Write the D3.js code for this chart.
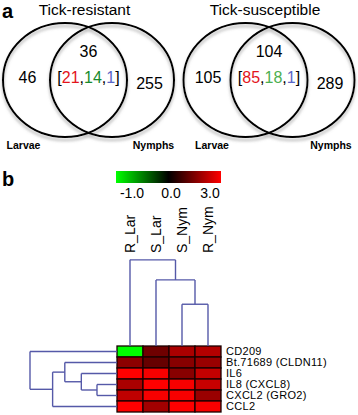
<!DOCTYPE html>
<html lang="en">
    <head>
        <meta charset="utf-8">
        <title>Venn + heatmap</title>
        <script type="text/javascript" src="https://cdn.jsdelivr.net/npm/d3@7"></script>
        <style>
            body { margin: 0; background: #fff; }
            svg { display: block; font-family: "Liberation Sans", Arial, sans-serif; }
        </style>
    </head>
    <body>
        <script type="text/javascript">
            // ---- data: panel a (venn counts) ----
            var vennTitles = ["Tick-resistant", "Tick-susceptible"];
            var setNames = ["Larvae", "Nymphs"];
            var larvaeOnly = [46, 105];
            var sharedCount = [36, 104];
            var nymphsOnly = [255, 289];
            var sharedSplit = [[21, 14, 1], [85, 18, 1]];
            var splitColors = [["#e3141c", "#178a2c", "#5a66c8"], ["#e3141c", "#4caf50", "#5a66c8"]];

            // ---- data: panel b (heatmap) ----
            var samples = ["R_Lar", "S_Lar", "S_Nym", "R_Nym"];
            var genes = ["CD209", "Bt.71689 (CLDN11)", "IL6", "IL8 (CXCL8)", "CXCL2 (GRO2)", "CCL2"];
            var values = [
                [-1.0, 1.3, 2.0, 2.1],
                [1.65, 1.2, 1.6, 1.8],
                [3.0, 2.9, 1.6, 2.3],
                [2.0, 3.0, 2.9, 2.35],
                [2.25, 2.9, 2.9, 1.8],
                [3.0, 1.9, 3.0, 2.9]
            ];
            var legendTicks = [-1.0, 0.0, 3.0];
            // dendrograms (merge heights in distance units)
            var colTree = { h: 0.99, children: [{ leaf: "R_Lar" },
                { h: 0.76, children: [{ leaf: "S_Lar" },
                    { h: 0.48, children: [{ leaf: "S_Nym" }, { leaf: "R_Nym" }] }] }] };
            var rowTree = { h: 1.0, children: [{ leaf: "CD209" },
                { h: 0.74, children: [
                    { h: 0.6, children: [{ leaf: "Bt.71689 (CLDN11)" },
                        { h: 0.41, children: [{ leaf: "IL6" },
                            { h: 0.23, children: [{ leaf: "IL8 (CXCL8)" }, { leaf: "CXCL2 (GRO2)" }] }] }] },
                    { leaf: "CCL2" }] }] };

            var w = 358, h = 415;

            var svg = d3.select("body")
                        .append("svg")
                        .attr("width", w)
                        .attr("height", h);

            var defs = svg.append("defs");
            var shadow = defs.append("filter").attr("id", "shadow")
                .attr("x", "-10%").attr("y", "-10%").attr("width", "120%").attr("height", "130%");
            shadow.append("feDropShadow")
                .attr("dx", 0).attr("dy", 3).attr("stdDeviation", 1.8)
                .attr("flood-color", "#777").attr("flood-opacity", 0.55);

            // panel letters
            svg.append("text").attr("x", 2).attr("y", 18).text("a")
                .attr("font-size", "20px").attr("font-weight", "bold");
            svg.append("text").attr("x", 2).attr("y", 186).text("b")
                .attr("font-size", "20px").attr("font-weight", "bold");

            // ---------- panel a ----------
            var vennCenters = [88.5, 269];
            var off = 23.5, rx = 62, ry = 57, cy = 80;
            var nameOffsets = [[-65, 65], [-57, 62]];

            vennCenters.forEach(function(c, i) {
                var g = svg.append("g");

                g.append("text").attr("x", c - 4).attr("y", 15)
                    .attr("text-anchor", "middle").attr("font-size", "15.5px")
                    .text(vennTitles[i]);

                var circles = g.append("g").attr("filter", "url(#shadow)");
                [-off, off].forEach(function(dx) {
                    circles.append("ellipse")
                        .attr("cx", c + dx).attr("cy", cy)
                        .attr("rx", rx).attr("ry", ry)
                        .attr("fill", "none").attr("stroke", "#000").attr("stroke-width", 2);
                });

                g.append("text").attr("x", c - 61).attr("y", 83)
                    .attr("text-anchor", "middle").attr("font-size", "16px").text(larvaeOnly[i]);
                g.append("text").attr("x", c).attr("y", 57)
                    .attr("text-anchor", "middle").attr("font-size", "16px").text(sharedCount[i]);
                g.append("text").attr("x", c + 61).attr("y", 89)
                    .attr("text-anchor", "middle").attr("font-size", "16px").text(nymphsOnly[i]);

                var split = g.append("text").attr("x", c).attr("y", 83)
                    .attr("text-anchor", "middle").attr("font-size", "16px");
                split.append("tspan").text("[");
                sharedSplit[i].forEach(function(v, k) {
                    split.append("tspan").attr("fill", splitColors[i][k]).text(v);
                    if (k < sharedSplit[i].length - 1) split.append("tspan").text(",");
                });
                split.append("tspan").text("]");

                setNames.forEach(function(name, k) {
                    g.append("text").attr("x", c + nameOffsets[i][k]).attr("y", 149)
                        .attr("text-anchor", "middle").attr("font-size", "10.5px").attr("font-weight", "bold")
                        .text(name);
                });
            });

            // ---------- panel b ----------
            var color = d3.scaleLinear()
                          .domain([-1, 0, 3])
                          .range(["#00ff00", "#000000", "#ff0000"]);

            // legend
            var grad = defs.append("linearGradient").attr("id", "lg");
            grad.selectAll("stop")
                .data([-1, 0, 3])
                .enter()
                .append("stop")
                .attr("offset", function(d, i) { return (i * 50) + "%"; })
                .attr("stop-color", function(d) { return color(d); });

            svg.append("rect").attr("x", 116).attr("y", 171)
                .attr("width", 105).attr("height", 12).attr("fill", "url(#lg)");

            var legendPos = d3.scalePoint().domain(legendTicks).range([132, 210]);
            svg.selectAll("text.lt")
                .data(legendTicks)
                .enter()
                .append("text")
                .attr("class", "lt")
                .attr("x", function(d) { return legendPos(d); })
                .attr("y", 198)
                .attr("text-anchor", "middle")
                .attr("font-size", "14px")
                .text(function(d) { return d.toFixed(1); });

            // heatmap
            var xScale = d3.scaleBand().domain(samples).range([117, 221]);
            var yScale = d3.scaleBand().domain(genes).range([346, 412]);

            var cells = [];
            values.forEach(function(row, r) {
                row.forEach(function(v, c) {
                    cells.push({ gene: genes[r], sample: samples[c], v: v });
                });
            });

            svg.selectAll("rect.cell")
                .data(cells)
                .enter()
                .append("rect")
                .attr("class", "cell")
                .attr("x", function(d) { return xScale(d.sample); })
                .attr("y", function(d) { return yScale(d.gene); })
                .attr("width", xScale.bandwidth())
                .attr("height", yScale.bandwidth())
                .attr("fill", function(d) { return color(d.v); })
                .attr("stroke", "#1a0000")
                .attr("stroke-width", 1.3);

            // row labels
            svg.selectAll("text.gene")
                .data(genes)
                .enter()
                .append("text")
                .attr("class", "gene")
                .attr("x", 226)
                .attr("y", function(d) { return yScale(d) + yScale.bandwidth() / 2; })
                .attr("dy", "0.36em")
                .attr("font-size", "11px")
                .attr("letter-spacing", "0.3px")
                .text(function(d) { return d; });

            // column labels
            svg.selectAll("text.sample")
                .data(samples)
                .enter()
                .append("text")
                .attr("class", "sample")
                .attr("transform", function(d) {
                    return "translate(" + (xScale(d) + xScale.bandwidth() / 2) + ",253) rotate(-90)";
                })
                .attr("dy", "0.36em")
                .attr("font-size", "14px")
                .text(function(d) { return d; });

            // dendrograms
            var dist = d3.scaleLinear().domain([0, 1]).range([0, 87]);
            var dendroColor = "#5559a8";

            // returns leaf-axis position of node, collects link segments
            function drawTree(node, leafPos, toPix, segs) {
                if (node.leaf) return leafPos(node.leaf);
                var kids = node.children.map(function(ch) {
                    return { p: drawTree(ch, leafPos, toPix, segs), h: ch.leaf ? 0 : ch.h };
                });
                var hp = toPix(node.h);
                kids.forEach(function(k) {
                    segs.push([[k.p, toPix(k.h)], [k.p, hp]]);
                });
                segs.push([[kids[0].p, hp], [kids[1].p, hp]]);
                return (kids[0].p + kids[1].p) / 2;
            }

            var colSegs = [];
            drawTree(colTree,
                function(s) { return xScale(s) + xScale.bandwidth() / 2; },
                function(d) { return 346 - dist(d); }, colSegs);

            var rowSegs = [];
            drawTree(rowTree,
                function(s) { return yScale(s) + yScale.bandwidth() / 2; },
                function(d) { return 117 - dist(d); }, rowSegs);

            svg.selectAll("line.col")
                .data(colSegs)
                .enter()
                .append("line")
                .attr("x1", function(d) { return d[0][0]; })
                .attr("y1", function(d) { return d[0][1]; })
                .attr("x2", function(d) { return d[1][0]; })
                .attr("y2", function(d) { return d[1][1]; })
                .attr("stroke", dendroColor).attr("stroke-width", 1.4);

            // row tree: positions are [leafAxis(y), dist(x)] -> swap
            svg.selectAll("line.row")
                .data(rowSegs)
                .enter()
                .append("line")
                .attr("x1", function(d) { return d[0][1]; })
                .attr("y1", function(d) { return d[0][0]; })
                .attr("x2", function(d) { return d[1][1]; })
                .attr("y2", function(d) { return d[1][0]; })
                .attr("stroke", dendroColor).attr("stroke-width", 1.4);
        </script>
    </body>
</html>
